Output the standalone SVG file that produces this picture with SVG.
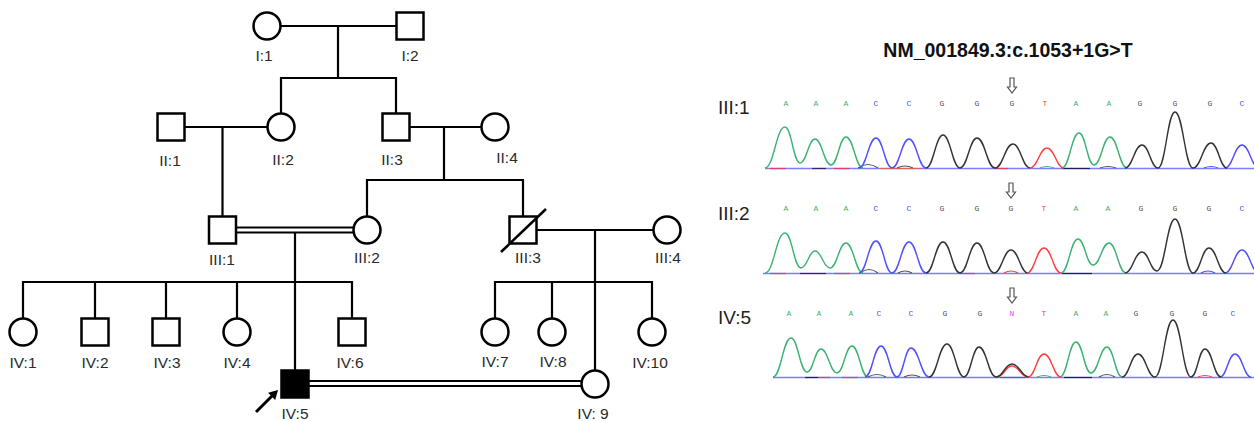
<svg xmlns="http://www.w3.org/2000/svg" width="1254" height="421" viewBox="0 0 1254 421">
<style>
.sym{fill:#fff;stroke:#000;stroke-width:2.5}
.ln{fill:none;stroke:#000;stroke-width:2.2}
.dbl{fill:none;stroke:#000;stroke-width:1.8}
.lab{font-family:"Liberation Sans",Arial,sans-serif;font-size:15.5px;fill:#2a2a2a;text-anchor:middle}
.rowlab{font-family:"Liberation Sans",Arial,sans-serif;font-size:19px;fill:#222}
.title{font-family:"Liberation Sans",Arial,sans-serif;font-size:19.5px;font-weight:bold;fill:#111}
.base{font-family:"Liberation Mono",monospace;font-size:8px;text-anchor:middle}
.tr{fill:none;stroke-width:1.4;stroke-linejoin:round}
.bA{fill:#3cb371}.bC{fill:#5050ff}.bG{fill:#555}.bT{fill:#ff4040}.bN{fill:#ff40ff}
.A{stroke:#3cb371}.C{stroke:#5050ff}.G{stroke:#333}.T{stroke:#ff4040}.N{stroke:#ff40ff}
.bl{fill:none;stroke:#7d7dff;stroke-width:1.6}
.nz{fill:none;stroke-width:1.2}
.darr{fill:#fff;stroke:#555;stroke-width:1.2}
</style>
<defs>
<path id="darr" d="M-2,0 L2,0 L2,9 L4.5,9 L0,15 L-4.5,9 L-2,9 Z"/>
</defs>

<!-- Pedigree connectors -->
<g id="connectors">
<line class="ln" x1="281" y1="26" x2="396" y2="26"/>
<line class="ln" x1="338" y1="26" x2="338" y2="78"/>
<polyline class="ln" points="281,113 281,78 396,78 396,113.5"/>
<line class="ln" x1="184.5" y1="127" x2="267.5" y2="127"/>
<line class="ln" x1="222.5" y1="127" x2="222.5" y2="216.5"/>
<line class="ln" x1="409.5" y1="127" x2="481.5" y2="127"/>
<line class="ln" x1="444" y1="127" x2="444" y2="180"/>
<polyline class="ln" points="367,216.5 367,180 523,180 523,216.5"/>
<line class="dbl" x1="236" y1="227.5" x2="354" y2="227.5"/>
<line class="dbl" x1="236" y1="232.5" x2="354" y2="232.5"/>
<line class="ln" x1="295" y1="233" x2="295" y2="370.5"/>
<polyline class="ln" points="23,318.5 23,282 352,282 352,318.5"/>
<line class="ln" x1="95" y1="282" x2="95" y2="318.5"/>
<line class="ln" x1="166" y1="282" x2="166" y2="318.5"/>
<line class="ln" x1="237" y1="282" x2="237" y2="318.5"/>
<line class="ln" x1="536.5" y1="230" x2="653.5" y2="230"/>
<line class="ln" x1="595" y1="230" x2="595" y2="370.5"/>
<polyline class="ln" points="495,318.5 495,282 652,282 652,318.5"/>
<line class="ln" x1="552" y1="282" x2="552" y2="318.5"/>
<line class="dbl" x1="308" y1="381" x2="582" y2="381"/>
<line class="dbl" x1="308" y1="386" x2="582" y2="386"/>
<line x1="256" y1="412" x2="273" y2="395" stroke="#000" stroke-width="3"/>
<polygon points="278,390 275.2,399.9 268.1,392.8" fill="#000"/>
</g>

<!-- Pedigree nodes -->
<g id="I1"><circle class="sym" cx="267" cy="26" r="13.5"/><text class="lab" x="264" y="61">I:1</text></g>
<g id="I2"><rect class="sym" x="396.5" y="12.5" width="27" height="27"/><text class="lab" x="410" y="61">I:2</text></g>
<g id="II1"><rect class="sym" x="157.5" y="113.5" width="27" height="27"/><text class="lab" x="170" y="166">II:1</text></g>
<g id="II2"><circle class="sym" cx="281" cy="127" r="13.5"/><text class="lab" x="283" y="165">II:2</text></g>
<g id="II3"><rect class="sym" x="382.5" y="113.5" width="27" height="27"/><text class="lab" x="392" y="165">II:3</text></g>
<g id="II4"><circle class="sym" cx="495" cy="127" r="13.5"/><text class="lab" x="507" y="163">II:4</text></g>
<g id="III1"><rect class="sym" x="209" y="216.5" width="27" height="27"/><text class="lab" x="222" y="265">III:1</text></g>
<g id="III2"><circle class="sym" cx="367" cy="230" r="13.5"/><text class="lab" x="367" y="263">III:2</text></g>
<g id="III3"><rect class="sym" x="509.5" y="216.5" width="27" height="27"/><line x1="501" y1="252" x2="546" y2="209" stroke="#000" stroke-width="2.5"/><text class="lab" x="528" y="263">III:3</text></g>
<g id="III4"><circle class="sym" cx="667" cy="230" r="13.5"/><text class="lab" x="668" y="263">III:4</text></g>
<g id="IV1"><circle class="sym" cx="23" cy="332" r="13.5"/><text class="lab" x="23" y="368">IV:1</text></g>
<g id="IV2"><rect class="sym" x="81.5" y="318.5" width="27" height="27"/><text class="lab" x="95" y="368">IV:2</text></g>
<g id="IV3"><rect class="sym" x="152.5" y="318.5" width="27" height="27"/><text class="lab" x="167" y="368">IV:3</text></g>
<g id="IV4"><circle class="sym" cx="237" cy="332" r="13.5"/><text class="lab" x="237" y="368">IV:4</text></g>
<g id="IV5"><rect x="281.5" y="370.5" width="27" height="27" fill="#000" stroke="#000" stroke-width="2.5"/><text class="lab" x="295" y="419">IV:5</text></g>
<g id="IV6"><rect class="sym" x="338.5" y="318.5" width="27" height="27"/><text class="lab" x="350" y="368">IV:6</text></g>
<g id="IV7"><circle class="sym" cx="495" cy="332" r="13.5"/><text class="lab" x="495" y="367">IV:7</text></g>
<g id="IV8"><circle class="sym" cx="552" cy="332" r="13.5"/><text class="lab" x="553" y="367">IV:8</text></g>
<g id="IV9"><circle class="sym" cx="595" cy="384" r="13.5"/><text class="lab" x="593" y="419">IV: 9</text></g>
<g id="IV10"><circle class="sym" cx="652" cy="332" r="13.5"/><text class="lab" x="650" y="368">IV:10</text></g>

<!-- Sequencing panel -->
<g id="seq-title"><text class="title" x="1008" y="57" text-anchor="middle">NM_001849.3:c.1053+1G&gt;T</text></g>

<g id="trace-III1">
<text class="rowlab" x="718" y="114">III:1</text>
<use href="#darr" x="1012" y="78" class="darr"/>
<g class="base">
<text class="bA" x="786" y="106">A</text><text class="bA" x="816" y="106">A</text><text class="bA" x="846" y="106">A</text>
<text class="bC" x="876" y="106">C</text><text class="bC" x="909" y="106">C</text>
<text class="bG" x="942" y="106">G</text><text class="bG" x="977" y="106">G</text><text class="bG" x="1012" y="106">G</text>
<text class="bT" x="1045" y="106">T</text>
<text class="bA" x="1076" y="106">A</text><text class="bA" x="1109" y="106">A</text>
<text class="bG" x="1140" y="106">G</text><text class="bG" x="1175" y="106">G</text><text class="bG" x="1210" y="106">G</text>
<text class="bC" x="1242" y="106">C</text>
</g>
<line class="bl" x1="765" y1="168.5" x2="1254" y2="168.5"/>
<g class="nz">
<line x1="770" y1="168.5" x2="786" y2="168.5" stroke="#e04060"/>
<line x1="812" y1="168.5" x2="826" y2="168.5" stroke="#402060"/>
<line x1="834" y1="168.5" x2="850" y2="168.5" stroke="#e04060"/>
<line x1="880" y1="168.5" x2="922" y2="168.5" stroke="#e06060"/>
<line x1="995" y1="168.5" x2="1008" y2="168.5" stroke="#e04060"/>
<line x1="1062" y1="168.5" x2="1090" y2="168.5" stroke="#202050"/>
<path d="M858,168 Q868,161 878,168" stroke="#555"/>
<path d="M897,168 Q905,164 913,168" stroke="#555"/>
<path d="M1040,168 Q1047,165 1054,168" stroke="#3cb371"/>
<path d="M1100,168 Q1108,165 1116,168" stroke="#555"/>
<path d="M1204,168 Q1211,165 1218,168" stroke="#5050ff"/>
</g>
<path class="tr A" d="M765,168 C774,168 776,127 785,127 C791.75,127 793.25,163 800,163 C806.75,163 808.25,139 815,139 C822.2,139 823.8,165 831,165 C837.75,165 839.25,137 846,137 C853.65,137 855.35,168 863,168"/>
<path class="tr A" d="M1062,168 C1069.65,168 1071.35,133 1079,133 C1085.75,133 1087.25,165 1094,165 C1101.2,165 1102.8,137 1110,137 C1117.65,137 1119.35,168 1127,168"/>
<path class="tr C" d="M859,168 C866.65,168 868.35,138 876,138 C883.2,138 884.8,168 892,168 C899.65,168 901.35,139 909,139 C916.65,139 918.35,168 926,168"/>
<path class="tr C" d="M1225,168 C1232.65,168 1234.35,145 1242,145 C1249.65,145 1251.35,168 1259,168"/>
<path class="tr G" d="M926,168 C933.65,168 935.35,135 943,135 C950.65,135 952.35,168 960,168 C967.65,168 969.35,138 977,138 C985.1,138 986.9,168 995,168 C1003.1,168 1004.9,144 1013,144 C1020.65,144 1022.35,168 1030,168"/>
<path class="tr G" d="M1125,168 C1132.65,168 1134.35,145 1142,145 C1149.2,145 1150.8,168 1158,168 C1165.65,168 1167.35,112 1175,112 C1183.1,112 1184.9,168 1193,168 C1201.1,168 1202.9,143 1211,143 C1218.2,143 1219.8,168 1227,168"/>
<path class="tr T" d="M1030,168 C1037.65,168 1039.35,148 1047,148 C1054.65,148 1056.35,168 1064,168"/>
</g>

<g id="trace-III2">
<text class="rowlab" x="718" y="220">III:2</text>
<use href="#darr" x="1011" y="183" class="darr"/>
<g class="base">
<text class="bA" x="786" y="211">A</text><text class="bA" x="816" y="211">A</text><text class="bA" x="846" y="211">A</text>
<text class="bC" x="876" y="211">C</text><text class="bC" x="909" y="211">C</text>
<text class="bG" x="942" y="211">G</text><text class="bG" x="977" y="211">G</text><text class="bG" x="1011" y="211">G</text>
<text class="bT" x="1044" y="211">T</text>
<text class="bA" x="1076" y="211">A</text><text class="bA" x="1108" y="211">A</text>
<text class="bG" x="1141" y="211">G</text><text class="bG" x="1175" y="211">G</text><text class="bG" x="1209" y="211">G</text>
<text class="bC" x="1242" y="211">C</text>
</g>
<line class="bl" x1="763" y1="273.5" x2="1254" y2="273.5"/>
<g class="nz">
<line x1="770" y1="273.5" x2="786" y2="273.5" stroke="#e04060"/>
<line x1="800" y1="273.5" x2="826" y2="273.5" stroke="#402060"/>
<line x1="834" y1="273.5" x2="850" y2="273.5" stroke="#e04060"/>
<line x1="880" y1="273.5" x2="924" y2="273.5" stroke="#e06060"/>
<line x1="960" y1="273.5" x2="975" y2="273.5" stroke="#e04060"/>
<line x1="1062" y1="273.5" x2="1092" y2="273.5" stroke="#202050"/>
<line x1="1200" y1="273.5" x2="1254" y2="273.5" stroke="#e06060"/>
<path d="M860,273 Q869,266 878,273" stroke="#555"/>
<path d="M898,273 Q905,269 912,273" stroke="#555"/>
<path d="M1004,273 Q1011,269 1018,273" stroke="#ff4040"/>
<path d="M1201,273 Q1208,269 1215,273" stroke="#5050ff"/>
</g>
<path class="tr A" d="M765,273 C774,273 776,233 785,233 C792.2,233 793.8,268 801,268 C807.3,268 808.7,251 815,251 C821.75,251 823.25,268 830,268 C837.2,268 838.8,243 846,243 C853.65,243 855.35,273 863,273"/>
<path class="tr A" d="M1061,273 C1068.65,273 1070.35,239 1078,239 C1084.75,239 1086.25,265 1093,265 C1100.2,265 1101.8,243 1109,243 C1116.65,243 1118.35,273 1126,273"/>
<path class="tr C" d="M859,273 C866.65,273 868.35,241 876,241 C883.2,241 884.8,273 892,273 C899.65,273 901.35,242 909,242 C916.65,242 918.35,273 926,273"/>
<path class="tr C" d="M1225,273 C1232.65,273 1234.35,250 1242,250 C1249.65,250 1251.35,273 1259,273"/>
<path class="tr G" d="M926,273 C933.65,273 935.35,242 943,242 C950.65,242 952.35,273 960,273 C967.65,273 969.35,243 977,243 C984.65,243 986.35,273 994,273 C1001.65,273 1003.35,250 1011,250 C1018.65,250 1020.35,273 1028,273"/>
<path class="tr G" d="M1125,273 C1132.65,273 1134.35,252 1142,252 C1148.75,252 1150.25,271 1157,271 C1165.1,271 1166.9,219 1175,219 C1183.1,219 1184.9,273 1193,273 C1200.2,273 1201.8,248 1209,248 C1216.65,248 1218.35,273 1226,273"/>
<path class="tr T" d="M1027,273 C1034.65,273 1036.35,248 1044,248 C1051.65,248 1053.35,273 1061,273"/>
</g>

<g id="trace-IV5">
<text class="rowlab" x="718" y="324">IV:5</text>
<use href="#darr" x="1012" y="288" class="darr"/>
<g class="base">
<text class="bA" x="789" y="316">A</text><text class="bA" x="819" y="316">A</text><text class="bA" x="851" y="316">A</text>
<text class="bC" x="879" y="316">C</text><text class="bC" x="911" y="316">C</text>
<text class="bG" x="945" y="316">G</text><text class="bG" x="980" y="316">G</text>
<text class="bN" x="1012" y="316">N</text>
<text class="bT" x="1044" y="316">T</text>
<text class="bA" x="1076" y="316">A</text><text class="bA" x="1106" y="316">A</text>
<text class="bG" x="1136" y="316">G</text><text class="bG" x="1172" y="316">G</text><text class="bG" x="1205" y="316">G</text>
<text class="bC" x="1233" y="316">C</text>
</g>
<line class="bl" x1="773" y1="377.5" x2="1254" y2="377.5"/>
<g class="nz">
<line x1="805" y1="377.5" x2="818" y2="377.5" stroke="#202050"/>
<line x1="818" y1="377.5" x2="830" y2="377.5" stroke="#e04060"/>
<line x1="842" y1="377.5" x2="858" y2="377.5" stroke="#e04060"/>
<line x1="882" y1="377.5" x2="930" y2="377.5" stroke="#e06060"/>
<line x1="1000" y1="377.5" x2="1026" y2="377.5" stroke="#208080"/>
<line x1="1064" y1="377.5" x2="1092" y2="377.5" stroke="#202050"/>
<line x1="1196" y1="377.5" x2="1254" y2="377.5" stroke="#e06060"/>
<path d="M868,377 Q877,372 886,377" stroke="#555"/>
<path d="M904,377 Q912,373 920,377" stroke="#555"/>
<path d="M1037,377 Q1044,374 1051,377" stroke="#3cb371"/>
<path d="M1099,377 Q1107,372 1115,377" stroke="#555"/>
<path d="M1198,377 Q1205,374 1212,377" stroke="#ff4040"/>
</g>
<path class="tr A" d="M773,377 C781.1,377 782.9,338 791,338 C798.2,338 799.8,372 807,372 C813.3,372 814.7,349 821,349 C828.2,349 829.8,373 837,373 C843.75,373 845.25,346 852,346 C859.2,346 860.8,377 868,377"/>
<path class="tr A" d="M1060,377 C1067.2,377 1068.8,342 1076,342 C1082.75,342 1084.25,373 1091,373 C1098.2,373 1099.8,347 1107,347 C1113.75,347 1115.25,377 1122,377"/>
<path class="tr C" d="M865,377 C872.2,377 873.8,346 881,346 C888.2,346 889.8,377 897,377 C903.3,377 904.7,348 911,348 C919.1,348 920.9,377 929,377"/>
<path class="tr C" d="M1220,377 C1226.75,377 1228.25,354 1235,354 C1242.2,354 1243.8,377 1251,377"/>
<path class="tr T" d="M997,377 C1003.75,377 1005.25,366 1012,366 C1019.2,366 1020.8,377 1028,377"/>
<path class="tr G" d="M929,377 C937.1,377 938.9,344 947,344 C954.65,344 956.35,377 964,377 C970.75,377 972.25,347 979,347 C986.65,347 988.35,377 996,377 C1003.2,377 1004.8,364 1012,364 C1019.65,364 1021.35,377 1029,377"/>
<path class="tr T" d="M1028,377 C1035.2,377 1036.8,354 1044,354 C1051.65,354 1053.35,377 1061,377"/>
<path class="tr G" d="M1122,377 C1129.2,377 1130.8,354 1138,354 C1145.65,354 1147.35,377 1155,377 C1163.1,377 1164.9,320 1173,320 C1181.1,320 1182.9,377 1191,377 C1197.3,377 1198.7,349 1205,349 C1212.2,349 1213.8,377 1221,377"/>
</g>
</svg>
